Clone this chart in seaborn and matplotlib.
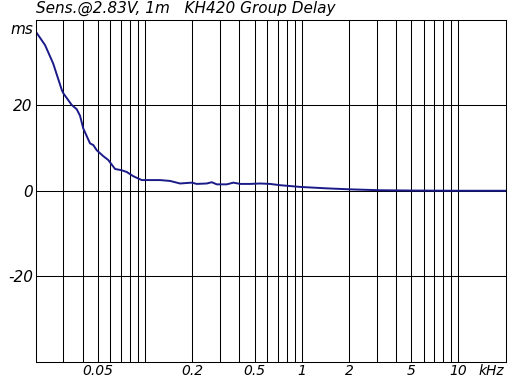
import numpy as np
import pandas as pd
import matplotlib
matplotlib.use("Agg")
import matplotlib.pyplot as plt
from matplotlib.ticker import NullFormatter
import seaborn as sns

# Group delay (frequency in kHz, delay in ms)
freq_khz = [0.0203, 0.0230, 0.0259, 0.0294, 0.0301, 0.0340, 0.0366, 0.0384,
            0.0403, 0.0445, 0.0467, 0.0491, 0.0541, 0.0582, 0.0643, 0.0709,
            0.0763, 0.0841, 0.0952, 0.1076, 0.1246, 0.1443, 0.1671, 0.1986,
            0.2136, 0.2475, 0.2664, 0.2867, 0.3321, 0.366, 0.404, 0.468,
            0.542, 0.628, 0.727, 0.976, 1.445, 2.036, 3.16, 5.0, 10.0, 20.0]
delay_ms = [37.0, 34.1, 29.8, 23.6, 22.8, 20.1, 19.1, 17.6,
            14.6, 11.1, 10.7, 9.5, 8.1, 7.2, 5.1, 4.8,
            4.4, 3.4, 2.5, 2.5, 2.5, 2.3, 1.7, 1.9,
            1.6, 1.7, 2.0, 1.5, 1.5, 1.9, 1.6, 1.6,
            1.7, 1.6, 1.3, 0.9, 0.56, 0.33, 0.12, 0.05, 0.0, 0.0]

x_ticks = [0.05, 0.2, 0.5, 1, 2, 5, 10]
x_tick_labels = ["0.05", "0.2", "0.5", "1", "2", "5", "10"]
y_ticks = [-20, 0, 20]
y_tick_labels = ["-20", "0", "20"]
title = "Sens.@2.83V, 1m   KH420 Group Delay"

sns.set_style("white")
plt.rcParams['font.family'] = ['DejaVu Sans']
plt.rcParams['text.color'] = 'black'

df = pd.DataFrame({"freq": freq_khz, "delay": delay_ms})

fig = plt.figure(figsize=(5.1, 3.79), dpi=100)
ax = fig.add_axes([35.6 / 510, 1 - 361.5 / 379, 470 / 510, 341.5 / 379])

sns.lineplot(data=df, x="freq", y="delay", ax=ax, color="#1a1a88", linewidth=1.4)

ax.set_xscale("log")
ax.set_xlim(0.02, 20)
ax.set_ylim(-40, 40)

# grid lines at 1..9 of every decade
grid_f = [m * 10.0 ** e for e in (-2, -1, 0, 1) for m in range(1, 10)]
grid_f = [f for f in grid_f if 0.02 < f < 20]
ax.set_xticks(grid_f, minor=True)
ax.xaxis.set_minor_formatter(NullFormatter())
ax.set_xticks(x_ticks)
ax.set_xticklabels(x_tick_labels, fontstyle="italic", fontsize=10, color="black")
ax.set_yticks(y_ticks)
ax.set_yticklabels(y_tick_labels, fontstyle="italic", fontsize=11, color="black")
ax.tick_params(axis="both", which="both", length=0, pad=2)
ax.grid(True, which="both", color="black", linewidth=0.75)
ax.set_xlabel("")
ax.set_ylabel("")
for s in ax.spines.values():
    s.set_color("black")
    s.set_linewidth(0.75)

fig.text(33 / 510, 1 - 29 / 379, "ms", ha="right", va="center",
         fontstyle="italic", fontsize=11)
fig.text(504 / 510, 1 - 371 / 379, "kHz", ha="right", va="center",
         fontstyle="italic", fontsize=10)
fig.text(36 / 510, 1 - 12.5 / 379, title, ha="left", va="baseline",
         fontstyle="italic", fontsize=11)

fig.savefig("out.png", dpi=100)
